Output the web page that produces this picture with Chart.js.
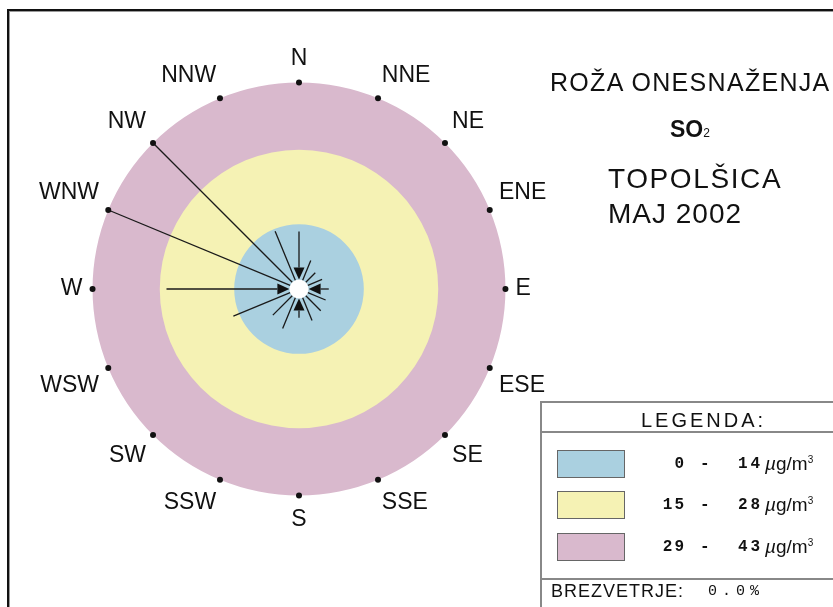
<!DOCTYPE html>
<html>
<head>
<meta charset="utf-8">
<script src="https://cdn.jsdelivr.net/npm/chart.js@4.4.0/dist/chart.umd.min.js"></script>
<style>
    body { margin: 0; background: #fff; }
    #page { position: relative; width: 833px; height: 607px; overflow: hidden; background: #fff; font-family: 'Liberation Sans', Arial, sans-serif; color: #111; }
    #rose { position: absolute; left: 0; top: 0; }
    .frame { position: absolute; left: 7px; top: 9px; width: 900px; height: 700px; border-top: 2px solid #111; border-left: 2px solid #111; box-shadow: inset 1px 1px 0 #999; }
    .txt { position: absolute; white-space: nowrap; line-height: 1; }
    .legend { position: absolute; left: 540px; top: 401px; width: 400px; height: 300px; border-top: 2px solid #888; border-left: 2px solid #888; }
    .hline { position: absolute; left: 540px; width: 400px; height: 0; border-top: 2px solid #888; }
    .swatch { position: absolute; left: 557px; width: 66px; height: 26px; border: 1px solid #666; }
    .num { font-family: 'Liberation Mono', monospace; font-weight: bold; font-size: 16px; }
    .unit { font-size: 19px; }
</style>
</head>
<body>
<div id="page">
    <canvas id="rose" width="833" height="607"></canvas>
    <div class="frame"></div>

    <div class="txt" style="left:550px; top:70px; font-size:25px; letter-spacing:1.3px;">ROŽA ONESNAŽENJA</div>
    <div class="txt" style="left:670px; top:118px; font-size:23px; font-weight:bold;">SO<span style="font-size:12px; font-weight:normal;">2</span></div>
    <div class="txt" style="left:608px; top:165px; font-size:28px; letter-spacing:1.6px;">TOPOLŠICA</div>
    <div class="txt" style="left:608px; top:200px; font-size:28px; letter-spacing:1px;">MAJ 2002</div>

    <div class="legend"></div>
    <div class="hline" style="top:431px;"></div>
    <div class="hline" style="top:578px;"></div>
    <div class="txt" style="left:641px; top:410px; font-size:20px; letter-spacing:3px;">LEGENDA:</div>
    <div id="legendRows"></div>
    <div class="txt" style="left:551px; top:582px; font-size:18px; letter-spacing:1px;">BREZVETRJE:</div>
    <div class="txt num" id="calm" style="left:708px; top:584px; letter-spacing:5px; font-weight:normal; font-size:15px;"></div>
</div>

<script>
// smeri vetra (od severa v smeri urinega kazalca)
var directions = ['N', 'NNE', 'NE', 'ENE', 'E', 'ESE', 'SE', 'SSE', 'S', 'SSW', 'SW', 'WSW', 'W', 'WNW', 'NW', 'NNW'];
// koncentracija SO2 po smereh, ug/m3
var concentration = [12, 6.4, 4.8, 5.2, 6.2, 6, 6.4, 7.1, 6, 8.9, 7.7, 14.8, 27.6, 43, 43, 13];
// razredi
var classFrom = [0, 15, 29];
var classTo = [14, 28, 43];
var classRing = [13.5, 29, 43];
var scaleMax = 43;
var holeValue = 2;
var calmPercent = '0.0%';

var ringColors = ['#aad0e0', '#f5f2b4', '#d9b9cd'];

// legenda
var rows = document.getElementById('legendRows');
var rowTop = [450, 491, 533];
classFrom.forEach(function (f, i) {
    var y = rowTop[i];
    rows.innerHTML +=
        '<div class="swatch" style="top:' + y + 'px; background:' + ringColors[i] + ';"></div>' +
        '<div class="txt num" style="left:646px; width:40px; text-align:right; top:' + (y + 6) + 'px; letter-spacing:2px;">' + f + '</div>' +
        '<div class="txt num" style="left:700px; top:' + (y + 6) + 'px;">-</div>' +
        '<div class="txt num" style="left:738px; top:' + (y + 6) + 'px; letter-spacing:3px;">' + classTo[i] + '</div>' +
        '<div class="txt unit" style="left:765px; top:' + (y + 4) + 'px;"><i>µ</i>g/m<sup style="font-size:10px;">3</sup></div>';
});
document.getElementById('calm').textContent = calmPercent;

//########################--ROZA--##############################

var roseArrows = {
    id: 'roseArrows',
    afterDatasetsDraw: function (chart) {
        var r = chart.scales.r;
        var c = chart.ctx;
        c.save();
        c.strokeStyle = '#1a1a1a';
        c.fillStyle = '#111';
        c.lineWidth = 1.3;
        concentration.forEach(function (v, i) {
            var from = r.getPointPositionForValue(i, v);
            var to = r.getPointPositionForValue(i, holeValue);
            var dx = to.x - from.x, dy = to.y - from.y;
            var len = Math.sqrt(dx * dx + dy * dy);
            var ux = dx / len, uy = dy / len;
            var head = (i % 4 === 0) ? 12 : 0;
            c.beginPath();
            c.moveTo(from.x, from.y);
            c.lineTo(to.x - ux * head, to.y - uy * head);
            c.stroke();
            if (head) {
                c.beginPath();
                c.moveTo(to.x, to.y);
                c.lineTo(to.x - ux * head - uy * 5.5, to.y - uy * head + ux * 5.5);
                c.lineTo(to.x - ux * head + uy * 5.5, to.y - uy * head - ux * 5.5);
                c.closePath();
                c.fill();
            }
        });
        directions.forEach(function (d, i) {
            var p = r.getPointPositionForValue(i, scaleMax);
            c.beginPath();
            c.arc(p.x, p.y, 3, 0, Math.PI * 2);
            c.fill();
        });
        c.restore();
    }
};

var ctx = document.getElementById('rose').getContext('2d');

var datasets = [{
    data: [holeValue],
    backgroundColor: '#ffffff',
    borderWidth: 0
}];
classRing.forEach(function (v, i) {
    datasets.push({
        data: [v],
        backgroundColor: ringColors[i],
        borderWidth: 0
    });
});

var chart = new Chart(ctx, {
    type: 'polarArea',
    data: {
        labels: directions,
        datasets: datasets
    },
    options: {
        responsive: false,
        animation: false,
        layout: {
            padding: { left: 32, top: 29, right: 280, bottom: 57 }
        },
        plugins: {
            legend: { display: false },
            tooltip: { enabled: false }
        },
        scales: {
            r: {
                min: 0,
                max: scaleMax,
                startAngle: 0,
                ticks: { display: false },
                grid: { display: false },
                angleLines: { display: false },
                pointLabels: {
                    display: true,
                    centerPointLabels: false,
                    padding: 10,
                    color: '#111',
                    font: { family: 'Liberation Sans', size: 23 }
                }
            }
        }
    },
    plugins: [roseArrows]
});
</script>
</body>
</html>
